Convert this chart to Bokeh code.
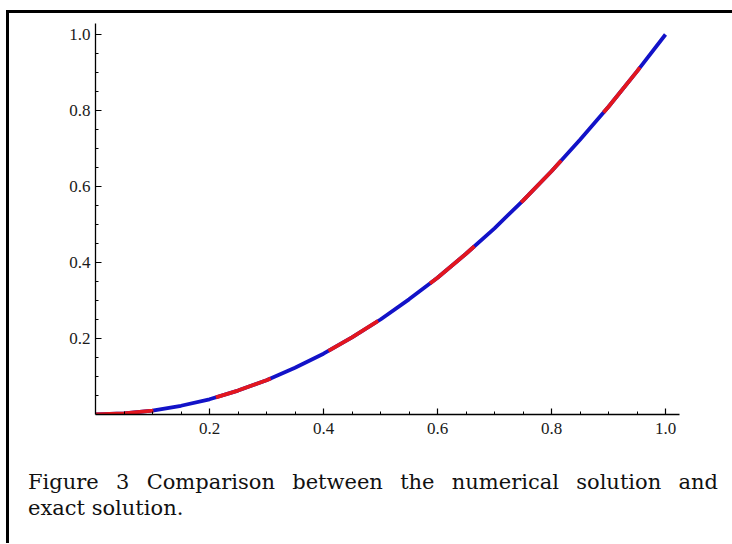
from bokeh.plotting import figure
from bokeh.models import Div, FixedTicker, PrintfTickFormatter, Range1d
from bokeh.layouts import column
from bokeh.embed import file_html
from bokeh.resources import INLINE

# ---- data ----
x_vals = [0.00, 0.05, 0.10, 0.15, 0.20, 0.25, 0.30, 0.35, 0.40, 0.45, 0.50,
          0.55, 0.60, 0.65, 0.70, 0.75, 0.80, 0.85, 0.90, 0.95, 1.00]
y_numerical = [0.000, 0.003, 0.010, 0.023, 0.040, 0.063, 0.090, 0.123, 0.160, 0.203, 0.250,
               0.303, 0.360, 0.423, 0.490, 0.563, 0.640, 0.723, 0.810, 0.903, 1.000]
y_exact = [0.000, 0.003, 0.010, 0.023, 0.040, 0.063, 0.090, 0.123, 0.160, 0.203, 0.250,
           0.303, 0.360, 0.423, 0.490, 0.563, 0.640, 0.723, 0.810, 0.903, 1.000]

x_major_ticks = [0.2, 0.4, 0.6, 0.8, 1.0]
y_major_ticks = [0.2, 0.4, 0.6, 0.8, 1.0]
x_minor_ticks = [0.05, 0.10, 0.15, 0.25, 0.30, 0.35, 0.45, 0.50, 0.55,
                 0.65, 0.70, 0.75, 0.85, 0.90, 0.95]
y_minor_ticks = [0.05, 0.10, 0.15, 0.25, 0.30, 0.35, 0.45, 0.50, 0.55,
                 0.65, 0.70, 0.75, 0.85, 0.90, 0.95]
tick_format = "%.1f"

caption_line1 = "Figure 3 Comparison between the numerical solution and"
caption_line2 = "exact solution."

# ---- figure ----
p = figure(width=723, height=455,
           x_range=Range1d(0, 1.0614), y_range=Range1d(0, 1.0526),
           output_backend="svg", toolbar_location=None,
           min_border_left=86, min_border_right=32,
           min_border_top=1, min_border_bottom=54)
p.outline_line_color = None
p.xgrid.visible = False
p.ygrid.visible = False
p.background_fill_color = "white"
p.border_fill_color = "white"

p.line(x_vals, y_numerical, line_color="#1212c8", line_width=3.8)
p.line(x_vals, y_exact, line_color="#e3161e", line_width=3.8, line_dash="58 64")

for ax, ticks, minors, bnds, stand in ((p.xaxis[0], x_major_ticks, x_minor_ticks, (-0.021, 1.0246), 8),
                                       (p.yaxis[0], y_major_ticks, y_minor_ticks, (-0.022, 1.0289), 5)):
    ax.ticker = FixedTicker(ticks=ticks, minor_ticks=minors)
    ax.formatter = PrintfTickFormatter(format=tick_format)
    ax.bounds = bnds
    ax.axis_line_color = "black"
    ax.axis_line_width = 1.3
    ax.major_tick_in = 6
    ax.major_tick_out = 0
    ax.minor_tick_in = 3
    ax.minor_tick_out = 0
    ax.major_tick_line_color = "black"
    ax.minor_tick_line_color = "black"
    ax.major_tick_line_width = 1.2
    ax.minor_tick_line_width = 1.0
    ax.major_label_text_font = "Liberation Serif"
    ax.major_label_text_font_size = "17px"
    ax.major_label_text_color = "#1a1a1a"
    ax.major_label_standoff = stand

caption_html = (
    '<div style="width:690px;font-family:\'DejaVu Serif\';font-size:21px;line-height:26px;color:#111111;">'
    '<div style="width:690px;text-align:justify;text-align-last:justify;white-space:normal;">'
    + caption_line1 + '</div>'
    '<div>' + caption_line2 + '</div></div>'
)
caption = Div(text=caption_html, width=690, margin=(1, 0, 22, 19))

layout = column(p, caption, margin=(10, 0, 0, 6),
                styles={"border-top": "3px solid black", "border-left": "3px solid black"})

open("out.html", "w").write(file_html(layout, INLINE))
